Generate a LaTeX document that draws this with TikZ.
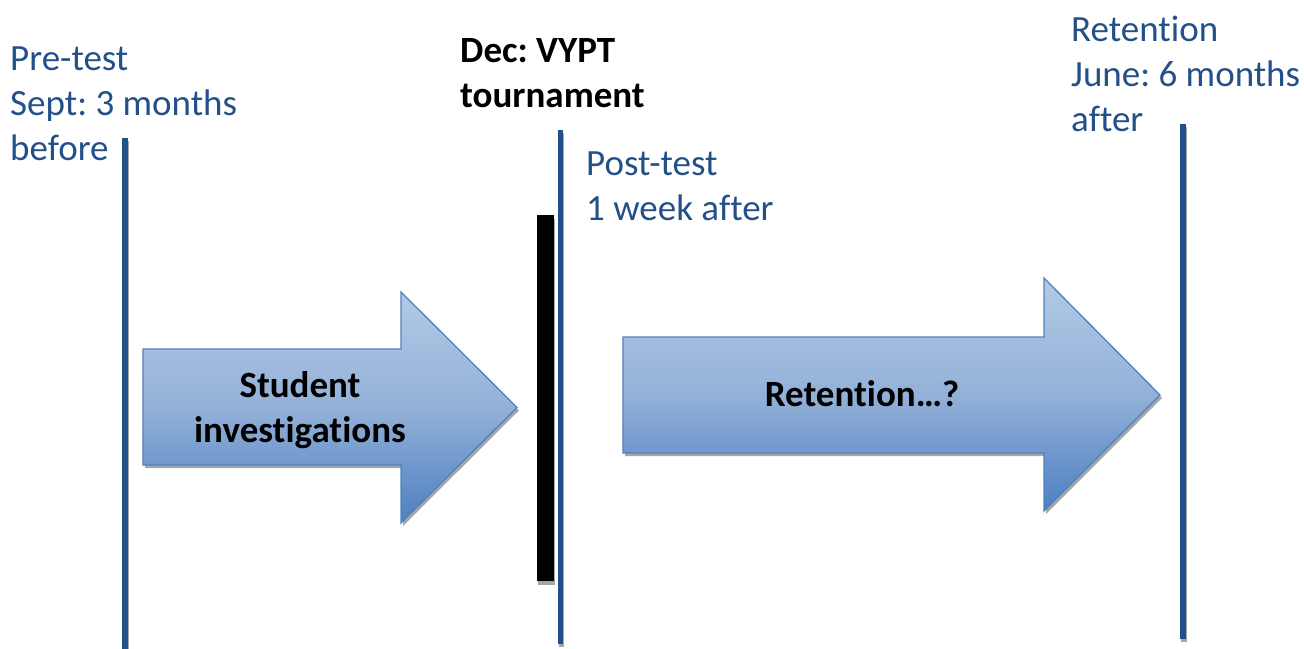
\documentclass[tikz,border=0pt]{standalone}
\usepackage{fontspec}
\setmainfont{Carlito}[Ligatures=NoCommon]
\frenchspacing
\definecolor{navy}{HTML}{24508A}
\definecolor{arrowedge}{HTML}{4F81BD}
\definecolor{arrowtop}{HTML}{B3C9E5}
\definecolor{arrowmid}{HTML}{93B1D8}
\definecolor{arrowbot}{HTML}{4D7FC0}
\definecolor{shadowgray}{HTML}{A6A6A6}
\begin{document}
\begin{tikzpicture}[x=1pt,y=-1pt,
  lbl/.style={text=navy, font=\fontsize{37}{45}\selectfont, align=left, inner sep=0pt, anchor=base west},
  blbl/.style={text=black, font=\fontsize{37}{45}\selectfont\bfseries, align=left, inner sep=0pt, anchor=base west},
  arrowtext/.style={text=black, font=\fontsize{37}{45}\selectfont\bfseries, align=center, inner sep=0pt, anchor=base},
  vline/.style={line width=5.5pt, draw=navy},
  vshadow/.style={line width=5.5pt, draw=shadowgray},
  arrowbody/.style={draw=arrowedge, line width=1.3pt, line join=miter, top color=arrowtop, bottom color=arrowbot, middle color=arrowmid},
  arrowshadow/.style={fill=shadowgray}
]
\useasboundingbox (0,0) rectangle (1304,648);

% coordinates of timeline markers
\coordinate (preT) at (125,138);
\coordinate (preB) at (125,652);
\coordinate (postT) at (560.5,130);
\coordinate (postB) at (560.5,644);
\coordinate (retT) at (1183,124);
\coordinate (retB) at (1183,639);

% shadows of lines
\draw[vshadow] ([shift={(1,3)}]postT) -- ([shift={(1,3)}]postB);
\draw[vshadow] ([shift={(1,3)}]retT) -- ([shift={(1,3)}]retB);
\draw[vshadow] ([shift={(1,3)}]preT) -- ([shift={(1,3)}]preB);

% vertical lines
\draw[vline] (preT) -- (preB);
\draw[vline] (postT) -- (postB);
\draw[vline] (retT) -- (retB);

% tournament bar
\fill[shadowgray] (538,219) rectangle (555,585);
\fill[black] (537,215) rectangle (554,581);

% left arrow
\fill[arrowshadow] (145,352) -- (403,352) -- (403,295) -- (519,410.5) -- (403,526) -- (403,468) -- (145,468) -- cycle;
\path[arrowbody] (143,349) -- (401,349) -- (401,292) -- (517,407.5) -- (401,523) -- (401,465) -- (143,465) -- cycle;
\node[arrowtext] (stud) at (300,442) {Student\\investigations};

% right arrow
\fill[arrowshadow] (625,340) -- (1046,340) -- (1046,281) -- (1162,398) -- (1046,514) -- (1046,456) -- (625,456) -- cycle;
\path[arrowbody] (623,337) -- (1044,337) -- (1044,278) -- (1160,395) -- (1044,511) -- (1044,453) -- (623,453) -- cycle;
\node[arrowtext] (reten) at (862,406) {Retention…?};

% labels (anchor is the baseline of the last line)
\node[lbl] (pre) at (10,160) {Pre-test\\Sept: 3 months\\before};
\node[blbl] (dec) at (460,107) {Dec: VYPT\\tournament};
\node[lbl] (post) at (586,220) {Post-test\\1 week after};
\node[lbl] (ret) at (1071,131) {Retention\\June: 6 months\\after};
\end{tikzpicture}
\end{document}
